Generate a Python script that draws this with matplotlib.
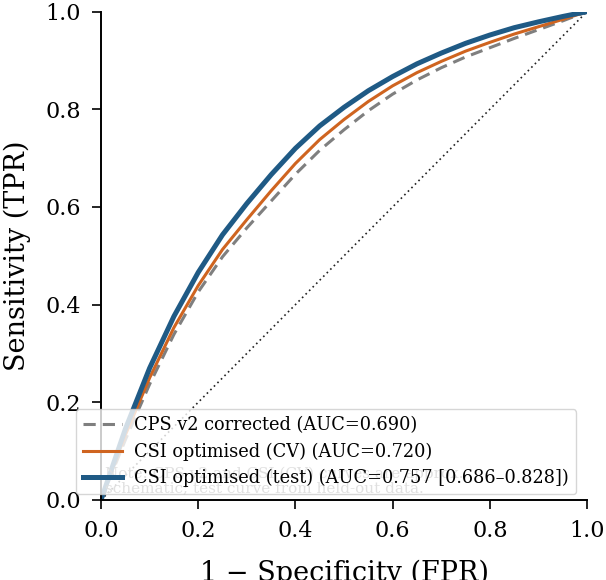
import matplotlib
matplotlib.use("Agg")
import matplotlib.pyplot as plt

plt.rcParams['font.family'] = ['DejaVu Serif']

# ROC points (FPR grid, TPR per curve)
fpr = [0.0, 0.05, 0.1, 0.15, 0.2, 0.25, 0.3, 0.35, 0.4, 0.45, 0.5,
       0.55, 0.6, 0.65, 0.7, 0.75, 0.8, 0.85, 0.9, 0.95, 1.0]

cps_tpr = [0.0, 0.123, 0.237, 0.339, 0.426, 0.498, 0.557, 0.612, 0.667, 0.716, 0.758,
           0.797, 0.831, 0.860, 0.885, 0.907, 0.926, 0.945, 0.963, 0.981, 1.0]
cv_tpr = [0.0, 0.133, 0.250, 0.353, 0.439, 0.513, 0.574, 0.633, 0.689, 0.738, 0.779,
          0.816, 0.848, 0.875, 0.898, 0.919, 0.937, 0.954, 0.969, 0.984, 1.0]
test_tpr = [0.0, 0.145, 0.270, 0.376, 0.466, 0.543, 0.607, 0.666, 0.720, 0.766, 0.804,
            0.838, 0.867, 0.893, 0.915, 0.935, 0.952, 0.967, 0.979, 0.990, 1.0]

labels = ["CPS v2 corrected (AUC=0.690)",
          "CSI optimised (CV) (AUC=0.720)",
          "CSI optimised (test) (AUC=0.757 [0.686\u20130.828])"]

fig = plt.figure(figsize=(6.06, 5.8), dpi=100)
ax = fig.add_axes([0.1667, 0.138, 0.802, 0.842])

ax.plot([0, 1], [0, 1], ls=(0, (1, 2)), color='#222222', lw=1.2)
ax.text(0.008, 0.039, "Note: CPS v2 and CSI (CV) curves are approx.\nschematic; test curve from held-out data.",
        fontsize=11, color='#666666', va='center', ha='left', linespacing=1.05)

ax.plot(fpr, cps_tpr, ls=(0, (4, 2.3)), color='#7f7f7f', lw=2.2, label=labels[0])
ax.plot(fpr, cv_tpr, color='#cf6420', lw=2.2, label=labels[1])
ax.plot(fpr, test_tpr, color='#1f5a85', lw=3.6, label=labels[2])

ax.set_xlim(0, 1)
ax.set_ylim(0, 1)
ax.set_xticks([0, 0.2, 0.4, 0.6, 0.8, 1.0])
ax.set_yticks([0, 0.2, 0.4, 0.6, 0.8, 1.0])
ax.tick_params(labelsize=16, length=6.5, width=1.2, pad=8)
for s in ['top', 'right']:
    ax.spines[s].set_visible(False)
for s in ['left', 'bottom']:
    ax.spines[s].set_linewidth(1.4)

ax.set_xlabel("1 \u2212 Specificity (FPR)", fontsize=19.5, labelpad=12.5)
ax.set_ylabel("Sensitivity (TPR)", fontsize=19.5, labelpad=10)

leg = ax.legend(loc='lower left', bbox_to_anchor=(-0.052, 0.012), borderaxespad=0,
                fontsize=12.8, framealpha=0.8, handlelength=2.2, handletextpad=0.7,
                labelspacing=0.45)
leg.get_frame().set_edgecolor('#cccccc')

fig.savefig("out.png", dpi=100)
